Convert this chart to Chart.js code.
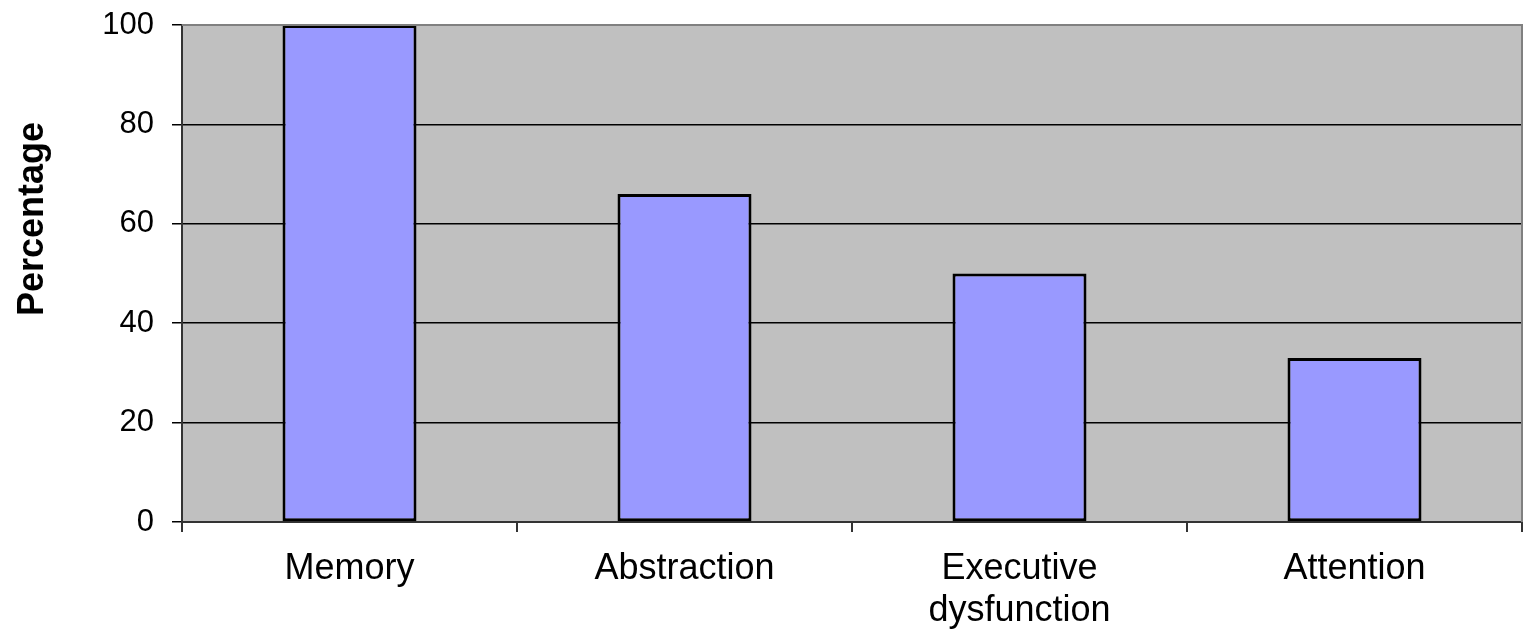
<!DOCTYPE html>
<html>
<head>
<meta charset="utf-8">
<script src="https://cdn.jsdelivr.net/npm/chart.js@4"></script>
<style>
  html, body { margin: 0; padding: 0; background: #fff; }
  #wrap { width: 1524px; height: 631px; }
</style>
</head>
<body>
<div id="wrap"><canvas id="myChart"></canvas></div>
<script>
const categorias = [['Memory'], ['Abstraction'], ['Executive', 'dysfunction'], ['Attention']]
const valores = [100, 66, 50, 33]
const tituloY = 'Percentage'
const ticksY = [0, 20, 40, 60, 80, 100]

const fuente = 'Arial, "Liberation Sans", sans-serif'

// fondo gris del area de trazado y borde gris
const fondoPlot = {
    id: 'fondoPlot',
    beforeDraw(chart) {
        const { ctx, chartArea: a } = chart
        ctx.save()
        ctx.fillStyle = '#C0C0C0'
        ctx.fillRect(a.left, a.top, a.right - a.left, a.bottom - a.top)
        ctx.restore()
    },
    afterDraw(chart) {
        const { ctx, chartArea: a } = chart
        ctx.save()
        ctx.strokeStyle = '#808080'
        ctx.lineWidth = 2
        ctx.beginPath()
        ctx.moveTo(a.left, a.top)
        ctx.lineTo(a.right, a.top)
        ctx.lineTo(a.right, a.bottom)
        ctx.stroke()
        // titulo del eje Y
        ctx.fillStyle = '#000'
        ctx.font = 'bold 36px ' + fuente
        ctx.textAlign = 'center'
        ctx.textBaseline = 'middle'
        ctx.translate(33, 219)
        ctx.rotate(-Math.PI / 2)
        ctx.fillText(tituloY, 0, 0)
        ctx.restore()
    }
}

new Chart(document.getElementById('myChart'), {
    type: 'bar',
    data: {
        labels: categorias,
        datasets: [{
            label: tituloY,
            data: valores,
            backgroundColor: '#9999FF',
            borderColor: '#000000',
            borderWidth: 3,
            borderSkipped: false,
            barPercentage: 0.4,
            categoryPercentage: 1
        }]
    },
    options: {
        responsive: true,
        maintainAspectRatio: false,
        animation: false,
        layout: { padding: { top: 25, right: 2, left: 0, bottom: 0 } },
        plugins: {
            legend: { display: false },
            tooltip: { enabled: false }
        },
        scales: {
            x: {
                afterFit: (s) => { s.height = 109; s.paddingLeft = 0; s.paddingRight = 0 },
                grid: {
                    offset: true,
                    drawOnChartArea: false,
                    tickLength: 10,
                    color: '#333',
                    lineWidth: 2
                },
                border: { color: '#333', width: 2 },
                ticks: {
                    color: '#000',
                    padding: 16,
                    font: { family: fuente, size: 36, lineHeight: 1.17 },
                    maxRotation: 0
                }
            },
            y: {
                min: 0,
                max: 100,
                afterFit: (s) => { s.width = 182; s.paddingTop = 0; s.paddingBottom = 0 },
                afterBuildTicks: (s) => { s.ticks = ticksY.map(v => ({ value: v })) },
                grid: {
                    color: '#000',
                    lineWidth: 1.5,
                    tickLength: 10
                },
                border: { color: '#333', width: 2 },
                ticks: {
                    color: '#000',
                    padding: 18,
                    font: { family: fuente, size: 31 }
                }
            }
        }
    },
    plugins: [fondoPlot]
})
</script>
</body>
</html>
